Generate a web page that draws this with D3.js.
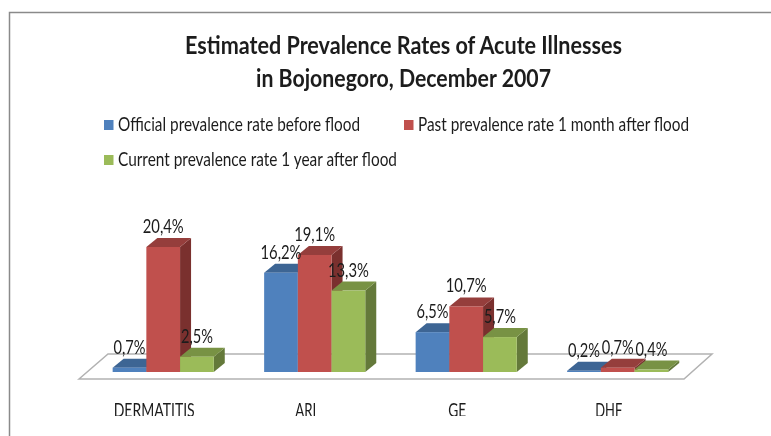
<!DOCTYPE html>
<html>
<head>
<meta charset="utf-8">
<script src="https://cdn.jsdelivr.net/npm/d3@7"></script>
<style>
  html, body { margin: 0; padding: 0; background: #fff; overflow: hidden; }
  svg { filter: blur(0.4px); }
  text { font-family: Lato, "Open Sans", sans-serif; fill: #1c1c1c; }
</style>
</head>
<body>
<div id="chart"></div>
<script>
const titleLines = ['Estimated Prevalence Rates of Acute Illnesses', 'in Bojonegoro, December 2007']
const categories = ['DERMATITIS', 'ARI', 'GE', 'DHF']
const seriesNames = [
  'Official prevalence rate before flood',
  'Past prevalence rate 1 month after flood',
  'Current prevalence rate 1 year after flood'
]
const officialValues = [0.7, 16.2, 6.5, 0.2]
const pastValues = [20.4, 19.1, 10.7, 0.7]
const currentValues = [2.5, 13.3, 5.7, 0.4]
const seriesValues = [officialValues, pastValues, currentValues]

const width = 771
const height = 436
const baseline = 372
const depth = { x: 11, y: 9 }

const front = ['#4f81bd', '#c0504d', '#9bbb59']
const top_ = ['#3d6594', '#953e3c', '#789244']
const side = ['#2f4d72', '#7a302e', '#64793a']

const svg = d3
  .select('#chart')
  .append('svg')
  .attr('width', width)
  .attr('height', height)

// frame of the slide, cut off by the picture on the right and bottom
svg
  .append('path')
  .attr('d', d3.line()([[9.5, height], [9.5, 12.5], [width, 12.5]]))
  .attr('fill', 'none')
  .attr('stroke', '#8a8a8a')
  .attr('stroke-width', 1.5)

const titleLayout = [
  { x: 185, y: 54, w: 437 },
  { x: 256, y: 87, w: 295 }
]
svg
  .selectAll('.title')
  .data(titleLines)
  .enter()
  .append('text')
  .attr('class', 'title')
  .text(d => d)
  .attr('x', (d, i) => titleLayout[i].x)
  .attr('y', (d, i) => titleLayout[i].y)
  .attr('textLength', (d, i) => titleLayout[i].w)
  .attr('lengthAdjust', 'spacingAndGlyphs')
  .attr('font-size', 24)
  .attr('font-weight', 'bold')

const legendLayout = [
  { x: 104, y: 120, w: 242 },
  { x: 404, y: 120, w: 271 },
  { x: 104, y: 155, w: 279 }
]
const legend = svg
  .selectAll('.legend')
  .data(seriesNames)
  .enter()
  .append('g')
  .attr('class', 'legend')
  .attr('transform', (d, i) => 'translate(' + legendLayout[i].x + ',' + legendLayout[i].y + ')')
legend
  .append('rect')
  .attr('width', 9.5)
  .attr('height', 10)
  .attr('fill', (d, i) => front[i])
legend
  .append('text')
  .text(d => d)
  .attr('x', 14)
  .attr('y', 10.5)
  .attr('textLength', (d, i) => legendLayout[i].w)
  .attr('lengthAdjust', 'spacingAndGlyphs')
  .attr('font-size', 19)

// floor of the 3d plot
svg
  .append('path')
  .attr('d', d3.line()([[79, 379], [108, 354], [712, 354], [684, 379]]) + 'Z')
  .attr('fill', '#fff')
  .attr('stroke', '#b2b2b2')
  .attr('stroke-width', 1.5)

const xPositionScale = d3
  .scaleBand()
  .domain(categories)
  .range([87.5, 693.4])
  .paddingInner(0.3325)
  .paddingOuter(0.166)
const xSeriesScale = d3
  .scaleBand()
  .domain(d3.range(seriesNames.length))
  .range([0, xPositionScale.bandwidth()])
const yPositionScale = d3
  .scaleLinear()
  .domain([0, 20.4])
  .range([baseline, baseline - 125])

const barData = []
categories.forEach((cat, c) => {
  seriesValues.forEach((vals, s) => {
    barData.push({ cat: cat, series: s, value: vals[c] })
  })
})

const bars = svg
  .selectAll('.bar')
  .data(barData)
  .enter()
  .append('g')
  .attr('class', 'bar')
  .attr('transform', d => 'translate(' + (xPositionScale(d.cat) + xSeriesScale(d.series)) + ',0)')

const bw = xSeriesScale.bandwidth()
bars
  .append('path')
  .attr('fill', d => side[d.series])
  .attr('d', d => {
    const t = yPositionScale(d.value)
    return d3.line()([[bw, t], [bw + depth.x, t - depth.y], [bw + depth.x, baseline - depth.y], [bw, baseline]]) + 'Z'
  })
bars
  .append('path')
  .attr('fill', d => top_[d.series])
  .attr('d', d => {
    const t = yPositionScale(d.value)
    return d3.line()([[0, t], [depth.x, t - depth.y], [bw + depth.x, t - depth.y], [bw, t]]) + 'Z'
  })
bars
  .append('rect')
  .attr('y', d => yPositionScale(d.value))
  .attr('width', bw)
  .attr('height', d => baseline - yPositionScale(d.value))
  .attr('fill', d => front[d.series])

const comma = d3.formatLocale({ decimal: ',', thousands: '.', grouping: [3], currency: ['', ''] }).format('.1f')

svg
  .selectAll('.value')
  .data(barData)
  .enter()
  .append('text')
  .attr('class', 'value')
  .text(d => comma(d.value) + '%')
  .attr('x', d => xPositionScale(d.cat) + xSeriesScale(d.series) + bw / 2)
  .attr('y', d => yPositionScale(d.value) - 14)
  .attr('text-anchor', 'middle')
  .attr('textLength', d => (comma(d.value).length === 4 ? 41 : 32))
  .attr('lengthAdjust', 'spacingAndGlyphs')
  .attr('font-size', 19)

// category labels are sliced by the bottom of the source image
svg
  .append('clipPath')
  .attr('id', 'label-clip')
  .append('rect')
  .attr('x', 0)
  .attr('y', 395)
  .attr('width', width)
  .attr('height', 21)

const xAxis = d3.axisBottom(xPositionScale).tickSize(0).tickPadding(0)
const axisWrap = svg.append('g').attr('clip-path', 'url(#label-clip)')
const axis = axisWrap
  .append('g')
  .attr('class', 'axis x-axis')
  .attr('transform', 'translate(-9,403)')
  .call(xAxis)
axis.select('.domain').remove()
axis
  .selectAll('text')
  .attr('font-size', 19)
  .attr('font-family', 'Lato')
  .attr('fill', '#1c1c1c')
  .attr('textLength', d => (d === 'DERMATITIS' ? 81 : d === 'ARI' ? 21 : d === 'GE' ? 18 : 27))
  .attr('lengthAdjust', 'spacingAndGlyphs')
</script>
</body>
</html>
